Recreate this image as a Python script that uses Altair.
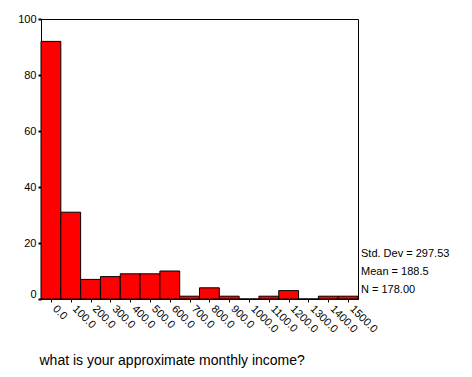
import altair as alt
import pandas as pd

bin_centers = [0, 100, 200, 300, 400, 500, 600, 700, 800, 900, 1000, 1100, 1200, 1300, 1400, 1500]
counts = [92, 31, 7, 8, 9, 9, 10, 1, 4, 1, 0, 1, 3, 0, 1, 1]
bin_width = 100
stats_lines = ["Std. Dev = 297.53", "Mean = 188.5", "N = 178.00"]
x_title = "what is your approximate monthly income?"

df = pd.DataFrame({
    "center": bin_centers,
    "count": counts,
})
df["start"] = df["center"] - bin_width / 2
df["end"] = df["center"] + bin_width / 2

FONT = "Arial, Liberation Sans, sans-serif"

x_scale = alt.Scale(domain=[-50, 1550], nice=False, zero=False)
y_scale = alt.Scale(domain=[0, 100], nice=False)

bars = alt.Chart(df).mark_rect(fill="#FF0000", stroke="black", strokeWidth=1).encode(
    x=alt.X("start:Q", scale=x_scale,
            axis=alt.Axis(values=bin_centers, format=".1f", labelAngle=45, labelAlign="left",
                          labelBaseline="middle", labelPadding=5, labelOffset=3, tickSize=3,
                          tickColor="black", domainColor="black", labelColor="black",
                          labelFont=FONT, labelFontSize=11,
                          grid=False, title=x_title, titleFont=FONT, titleFontSize=14,
                          titleFontWeight="normal", titleAnchor="start", titleAlign="left",
                          titleX=-2, titleY=61, titleBaseline="middle", titleColor="black",
                          labelOverlap=False, labelBound=False, labelFlush=False)),
    x2="end:Q",
    y=alt.Y("count:Q", scale=y_scale,
            axis=alt.Axis(values=[0, 20, 40, 60, 80, 100], tickSize=3, tickWidth=2, tickColor="black",
                          domainColor="black", labelColor="black", labelFont=FONT, labelFontSize=11,
                          labelPadding=2, grid=False, title=None,
                          labelBaseline=alt.ExprRef("datum.value == 0 ? 'bottom' : 'middle'"))),
    y2=alt.datum(0),
)

stats_df = pd.DataFrame({"line": stats_lines, "row": [0, 1, 2]})
stats = alt.Chart(stats_df).mark_text(align="left", baseline="middle", font=FONT, fontSize=11,
                                      color="black").encode(
    x=alt.value(320),
    y=alt.Y("row:Q", scale=alt.Scale(domain=[0, 2], range=[235, 271], nice=False, zero=False), axis=None),
    text="line:N",
)

chart = alt.layer(bars, stats).resolve_scale(y="independent").properties(
    width=317, height=280,
    autosize=alt.AutoSizeParams(type="none"),
    padding={"left": 41, "top": 19, "right": 114, "bottom": 78},
    background="white",
).configure_view(stroke="black", strokeWidth=1)

chart.save("out.html", embed_options={"renderer": "svg", "actions": False})
